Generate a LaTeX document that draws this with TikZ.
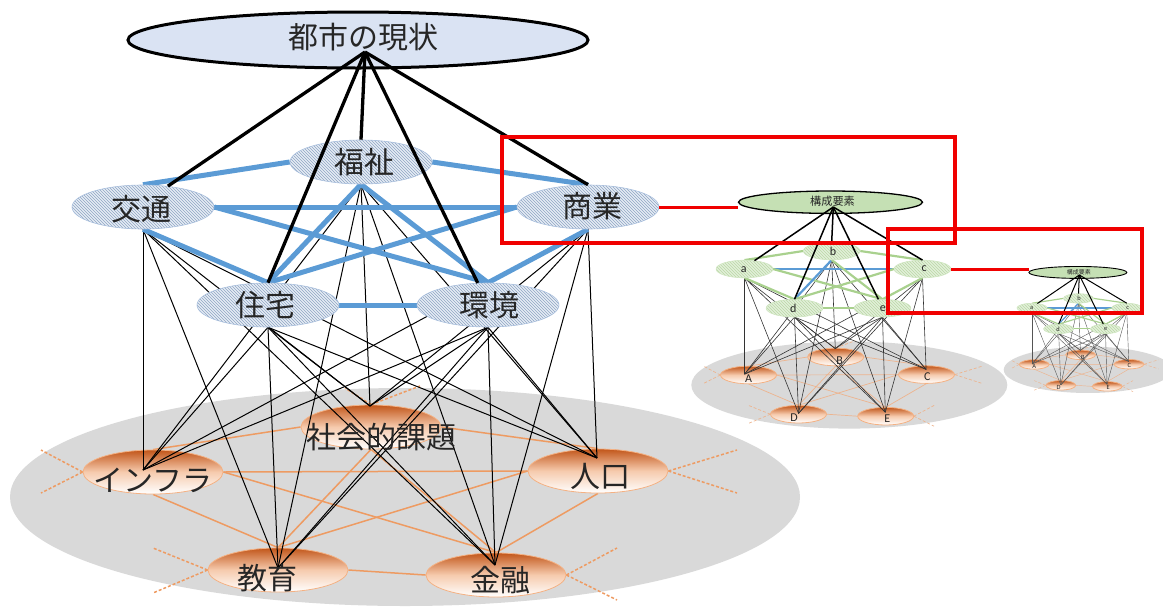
\documentclass[tikz,border=0pt]{standalone}
\usepackage{fontspec}
\newfontfamily\cjk{Noto Sans CJK JP}
\newfontfamily\lat{Carlito}
\usetikzlibrary{shapes.geometric,patterns}
\pgfdeclarelayer{l0}\pgfdeclarelayer{l1}\pgfdeclarelayer{l2}\pgfdeclarelayer{l3}\pgfdeclarelayer{l5}\pgfdeclarelayer{l6}
\pgfsetlayers{l0,l1,l2,l3,main,l5,l6}
\definecolor{BlueEdge}{HTML}{5B9BD5}
\definecolor{BgGray}{HTML}{D9D9D9}
\definecolor{BotTop}{HTML}{C2561A}
\definecolor{BotMid}{HTML}{F6CBAE}
\definecolor{BotLine}{HTML}{F4B183}
\definecolor{TxtCol}{HTML}{262626}
\definecolor{RedLine}{HTML}{F00000}
\tikzset{
 bgnode/.style={ellipse, fill=BgGray, minimum width=790pt, minimum height=218pt, inner sep=0pt},
 topnode/.style={ellipse, draw=black, line width=\wtop, fill=TopFill, minimum width=460pt, minimum height=56pt, inner sep=0pt},
 midnode/.style={ellipse, draw=MidLine, line width=0.6pt, preaction={fill=MidFill}, pattern=north west lines, pattern color=MidHatch, minimum width=142pt, minimum height=44pt, inner sep=0pt},
 botnode/.style={ellipse, draw=BotLine, line width=0.8pt, top color=BotTop, bottom color=white, middle color=BotMid, minimum width=140pt, minimum height=44pt, inner sep=0pt},
 lab/.style={text=TxtCol, inner sep=0pt, font=\LabFont},
 toplab/.style={text=TxtCol, inner sep=0pt, font=\TopFont},
 thickline/.style={line width=\wthick, draw=black},
 midedge/.style={line width=\wblue, draw=EdgeA},
 midedgeB/.style={line width=\wblue, draw=BlueEdge},
 thinline/.style={line width=\wthin, draw=ThinCol},
 orline/.style={line width=\worange, draw=OrLine},
 ordash/.style={orline, dash pattern=on 3pt off 2pt},
 redbox/.style={draw=RedLine, line width=4.5pt},
 redlink/.style={draw=RedLine, line width=3pt},
}
\newcommand\drawnet[4]{%
\begin{scope}[shift={(#3,#4)}, scale=#2, transform shape]
\begin{pgfonlayer}{l0}
 \node[bgnode] (#1-bg) at (405,497) {};
\end{pgfonlayer}
\begin{pgfonlayer}{l2}
 \node[botnode] (#1-m1) at (153,472) {};
 \node[botnode] (#1-m2) at (371,427) {};
 \node[botnode] (#1-m3) at (598,471) {};
 \node[botnode] (#1-m4) at (278,570) {};
 \node[botnode] (#1-m5) at (496,575) {};
\end{pgfonlayer}
 \node[midnode] (#1-n1) at (143,207) {};
 \node[midnode] (#1-n2) at (361,162) {};
 \node[midnode] (#1-n3) at (588,207) {};
 \node[midnode] (#1-n4) at (268,305) {};
 \node[midnode] (#1-n5) at (488,305) {};
 \node[topnode] (#1-top) at (358,40) {};
 \coordinate (#1-apex) at (365,52);
 \coordinate (#1-p1) at (143,470);
 \coordinate (#1-p2) at (370,406);
 \coordinate (#1-p3) at (597,458);
 \coordinate (#1-p4) at (278,568);
 \coordinate (#1-p5) at (495,565);
 \coordinate (#1-d1a) at (41,450);  \coordinate (#1-d1b) at (41,493);
 \coordinate (#1-d2a) at (345,388); \coordinate (#1-d2b) at (420,386);
 \coordinate (#1-d3a) at (737,450); \coordinate (#1-d3b) at (737,493);
 \coordinate (#1-d4a) at (153,548); \coordinate (#1-d4b) at (153,593);
 \coordinate (#1-d5a) at (617,548); \coordinate (#1-d5b) at (617,600);
\begin{pgfonlayer}{l1}
 \draw[orline] (#1-m1.north) -- (#1-m2.west);
 \draw[orline] (#1-m2.east) -- (#1-m3.north);
 \draw[orline] (#1-m1.east) -- (#1-m3.west);
 \draw[orline] (#1-m1.south) -- (#1-m4.north);
 \draw[orline] (#1-m1.east) -- (#1-m5.north);
 \draw[orline] (#1-m2.south) -- (#1-m4.north);
 \draw[orline] (#1-m2.south) -- (#1-m5.north);
 \draw[orline] (#1-m3.west) -- (#1-m4.north);
 \draw[orline] (#1-m3.south) -- (#1-m5.north);
 \draw[orline] (#1-m4.east) -- (#1-m5.west);
 \draw[ordash] (#1-m1.west) -- (#1-d1a);
 \draw[ordash] (#1-m1.west) -- (#1-d1b);
 \draw[ordash] (#1-m2.north) -- (#1-d2a);
 \draw[ordash] (#1-m2.north) -- (#1-d2b);
 \draw[ordash] (#1-m3.east) -- (#1-d3a);
 \draw[ordash] (#1-m3.east) -- (#1-d3b);
 \draw[ordash] (#1-m4.west) -- (#1-d4a);
 \draw[ordash] (#1-m4.west) -- (#1-d4b);
 \draw[ordash] (#1-m5.east) -- (#1-d5a);
 \draw[ordash] (#1-m5.east) -- (#1-d5b);
\end{pgfonlayer}
\begin{pgfonlayer}{l3}
 \foreach \i in {1,...,5}{\foreach \j in {1,...,5}{\draw[thinline] (#1-n\i.south) -- (#1-p\j);}}
 \draw[midedge] (#1-n1.north) -- (#1-n2.west);
 \draw[midedge] (#1-n2.east) -- (#1-n3.north);
 \draw[midedgeB] (#1-n1.east) -- (#1-n3.west);
 \draw[midedge] (#1-n1.south) -- (#1-n4.north);
 \draw[midedge] (#1-n1.east) -- (#1-n5.north);
 \draw[midedgeB] (#1-n2.south) -- (#1-n4.north);
 \draw[midedge] (#1-n2.south) -- (#1-n5.north);
 \draw[midedge] (#1-n3.west) -- (#1-n4.north);
 \draw[midedge] (#1-n3.south) -- (#1-n5.north);
 \draw[midedge] (#1-n4.east) -- (#1-n5.west);
\end{pgfonlayer}
\begin{pgfonlayer}{l5}
 \draw[thickline] (#1-apex) -- (#1-n1.40);
 \draw[thickline] (#1-apex) -- (#1-n2.north);
 \draw[thickline] (#1-apex) -- (#1-n3.north);
 \draw[thickline] (#1-apex) -- (#1-n4.north);
 \draw[thickline] (#1-apex) -- (#1-n5.115);
 \node[toplab] (#1-tt) at (363,37) {\Lt};
 \node[lab] (#1-t1) at (141,209) {\Lna};
 \node[lab] (#1-t2) at (364,162) {\Lnb};
 \node[lab] (#1-t3) at (592,206) {\Lnc};
 \node[lab] (#1-t4) at (265,305) {\Lnd};
 \node[lab] (#1-t5) at (489,305) {\Lne};
 \node[lab] (#1-u1) at (153,480) {\Lma};
 \node[lab] (#1-u2) at (381,437) {\Lmb};
 \node[lab] (#1-u3) at (600,476) {\Lmc};
 \node[lab] (#1-u4) at (267,578) {\Lmd};
 \node[lab] (#1-u5) at (500,580) {\Lme};
\end{pgfonlayer}
\end{scope}}
\begin{document}
\begin{tikzpicture}[x=1pt,y=-1pt]
\useasboundingbox (0,0) rectangle (1163,606);
% main diagram
\def\wtop{3pt}\def\wthick{3.3pt}\def\wblue{5pt}\def\wthin{1pt}\def\worange{1.5pt}
\definecolor{TopFill}{HTML}{DAE3F3}
\definecolor{MidFill}{HTML}{E6ECF5}\definecolor{MidHatch}{HTML}{8FA6C4}\definecolor{MidLine}{HTML}{A9BFDD}
\colorlet{EdgeA}{BlueEdge}\colorlet{ThinCol}{black}\definecolor{OrLine}{HTML}{EE9B62}
\def\LabFont{\cjk\fontsize{30pt}{30pt}\selectfont}\def\TopFont{\cjk\fontsize{30pt}{30pt}\selectfont}
\def\Lt{都市の現状}\def\Lna{交通}\def\Lnb{福祉}\def\Lnc{商業}\def\Lnd{住宅}\def\Lne{環境}
\def\Lma{インフラ}\def\Lmb{社会的課題}\def\Lmc{人口}\def\Lmd{教育}\def\Lme{金融}
\drawnet{M}{1}{0}{0}
% second diagram
\def\wtop{1.3pt}\def\wthick{1.5pt}\def\wblue{2.2pt}\def\wthin{0.6pt}\def\worange{0.7pt}
\definecolor{TopFill}{HTML}{C5E0B4}
\definecolor{MidFill}{HTML}{E2EFDA}\definecolor{MidHatch}{HTML}{BBD8A6}\definecolor{MidLine}{HTML}{D0E6C2}
\definecolor{EdgeA}{HTML}{A9D18E}\definecolor{ThinCol}{HTML}{333333}\definecolor{OrLine}{HTML}{EDB48E}
\def\LabFont{\lat\fontsize{30pt}{30pt}\selectfont}\def\TopFont{\cjk\fontsize{28pt}{28pt}\selectfont}
\def\Lt{構成要素}\def\Lna{a}\def\Lnb{b}\def\Lnc{c}\def\Lnd{d}\def\Lne{e}
\def\Lma{A}\def\Lmb{B}\def\Lmc{C}\def\Lmd{D}\def\Lme{E}
\drawnet{S}{0.4}{687.3}{186.2}
% third diagram
\def\wtop{0.9pt}\def\wthick{1pt}\def\wblue{1.2pt}\def\wthin{0.4pt}\def\worange{0.45pt}
\definecolor{ThinCol}{HTML}{555555}
\drawnet{T}{0.213}{1001.6}{263.9}
% red highlights
\begin{pgfonlayer}{l6}
 \draw[redbox] (502,137) rectangle (955,243);
 \draw[redbox] (888,229) rectangle (1142,313);
 \draw[redlink] (M-n3.east) -- (M-n3.east -| S-top.west);
 \draw[redlink] (S-n3.east) -- (S-n3.east -| T-top.west);
\end{pgfonlayer}
\end{tikzpicture}
\end{document}
